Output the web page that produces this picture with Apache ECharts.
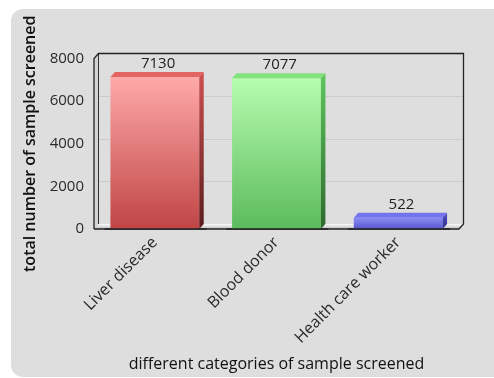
<!DOCTYPE html>
<html><head><meta charset="utf-8">
<script src="https://cdn.jsdelivr.net/npm/echarts@6/dist/echarts.min.js"></script>
<style>
html,body{margin:0;padding:0;background:#fff;overflow:hidden}
#panel{position:absolute;left:11px;top:9px;width:500px;height:368px;border-radius:12px 0 0 12px;background:#dedede}
#c{position:absolute;left:0;top:0;width:494px;height:378px}
</style>
</head><body><div id="panel"></div><div id="c"></div>
<script>
// ---- data ----
const categories = ['Liver disease', 'Blood donor', 'Health care worker'];
const values = [7130, 7077, 522];
const yMin = 0, yMax = 8000, yStep = 2000;
const xTitle = 'different categories of sample screened';
const yTitle = 'total number of sample screened';

// ---- style ----
const FONT = '"Open Sans", "DejaVu Sans", sans-serif';
const DX = 4.5, DY = 5;
const G = {left: 94, top: 58.5, width: 365, height: 170.5};
const palette = [
  {front: ['#ffa9a9', '#c04545'], top: '#e46464', side: ['#d05050', '#5a1c1c']},
  {front: ['#b6fdb0', '#5cbb5c'], top: '#82e27c', side: ['#5ec65e', '#2e6a2e']},
  {front: ['#8c8cf6', '#5656cc'], top: '#7474ee', side: ['#5454cc', '#2c2c8a']}
];
function lg(c1, c2) {
  return {type: 'linear', x: 0, y: 0, x2: 0, y2: 1, colorStops: [{offset: 0, color: c1}, {offset: 1, color: c2}]};
}
const textColor = '#2a2a2a';

const chart = echarts.init(document.getElementById('c'), null, {renderer: 'canvas'});
chart.setOption({
  animation: false,
  backgroundColor: 'transparent',
  grid: [
    {left: G.left, top: G.top, width: G.width, height: G.height},
    {left: G.left + DX, top: G.top - DY, width: G.width, height: G.height}
  ],
  xAxis: [
    {
      type: 'category', data: categories, gridIndex: 0,
      axisLine: {show: false}, axisTick: {show: false},
      axisLabel: {rotate: 45, fontSize: 16, color: textColor, fontFamily: FONT, margin: 11, interval: 0},
      name: xTitle, nameLocation: 'middle', nameGap: 127,
      nameTextStyle: {fontSize: 16, color: '#111', fontFamily: FONT}
    },
    {type: 'category', data: categories, gridIndex: 1, show: false}
  ],
  yAxis: [
    {
      type: 'value', gridIndex: 0, min: yMin, max: yMax, interval: yStep,
      axisLine: {show: false}, axisTick: {show: false}, splitLine: {show: false},
      axisLabel: {fontSize: 15, color: textColor, fontFamily: FONT, margin: 10,
        formatter: function (v) { return String(v); }},
      name: yTitle, nameLocation: 'middle', nameGap: 48, nameRotate: 90,
      nameTextStyle: {fontSize: 16, color: '#111', fontFamily: FONT, fontWeight: 600}
    },
    {
      type: 'value', gridIndex: 1, min: yMin, max: yMax, interval: yStep,
      axisLine: {show: false}, axisTick: {show: false}, axisLabel: {show: false},
      splitLine: {lineStyle: {color: '#cbcbcb', width: 1}}
    }
  ],
  series: [
    {
      type: 'custom', xAxisIndex: 0, yAxisIndex: 0, z: 1, silent: true,
      data: [[0, 0]],
      renderItem: function (params, api) {
        const cs = params.coordSys;
        const x0 = cs.x, y0 = cs.y, w = cs.width, h = cs.height, yb = y0 + h;
        return {
          type: 'group', children: [
            {type: 'polygon', shape: {points: [[x0, y0], [x0 + DX, y0 - DY], [x0 + DX, yb - DY], [x0, yb]]},
              style: {fill: '#d4d4d4'}},
            {type: 'polygon', shape: {points: [[x0, yb], [x0 + w, yb], [x0 + w + DX, yb - DY], [x0 + DX, yb - DY]]},
              style: {fill: lg('#fafafa', '#bdbdbd')}},
            {type: 'line', shape: {x1: x0 + DX, y1: y0 - DY, x2: x0 + DX, y2: yb - DY},
              style: {stroke: '#333', lineWidth: 1}},
            {type: 'polyline', shape: {points: [[x0, yb], [x0, y0], [x0 + DX, y0 - DY], [x0 + w + DX, y0 - DY], [x0 + w + DX, yb - DY], [x0 + w, yb], [x0, yb]]},
              style: {stroke: '#222', lineWidth: 1.3, fill: null}}
          ]
        };
      }
    },
    {
      type: 'custom', xAxisIndex: 0, yAxisIndex: 0, z: 2, silent: true,
      data: values.map(function (v, i) { return [i, v]; }),
      renderItem: function (params, api) {
        const i = api.value(0), v = api.value(1);
        const p = api.coord([i, v]);
        const b = api.coord([i, 0]);
        const bw = api.size([1, 0])[0] * 0.73;
        const xl = p[0] - bw / 2, xr = p[0] + bw / 2, yt = p[1], yb = b[1];
        const c = palette[params.dataIndex % palette.length];
        return {
          type: 'group', children: [
            {type: 'rect', shape: {x: xl, y: yt, width: bw, height: yb - yt}, style: {fill: lg(c.front[0], c.front[1])}},
            {type: 'polygon', shape: {points: [[xl, yt], [xr, yt], [xr + DX, yt - DY], [xl + DX, yt - DY]]}, style: {fill: c.top}},
            {type: 'polygon', shape: {points: [[xr, yt], [xr + DX, yt - DY], [xr + DX, yb - DY], [xr, yb]]}, style: {fill: lg(c.side[0], c.side[1])}},
            {type: 'line', shape: {x1: xl - 6, y1: yb, x2: xr + DX + 3, y2: yb}, style: {stroke: '#222', lineWidth: 1.3}},
            {type: 'text', style: {text: String(v), x: p[0] + DX / 2 + 1, y: yt - DY - 1, align: 'center', verticalAlign: 'bottom',
              fontSize: 15, fontFamily: FONT, fill: '#222'}}
          ]
        };
      }
    }
  ]
});
</script>
</body></html>
